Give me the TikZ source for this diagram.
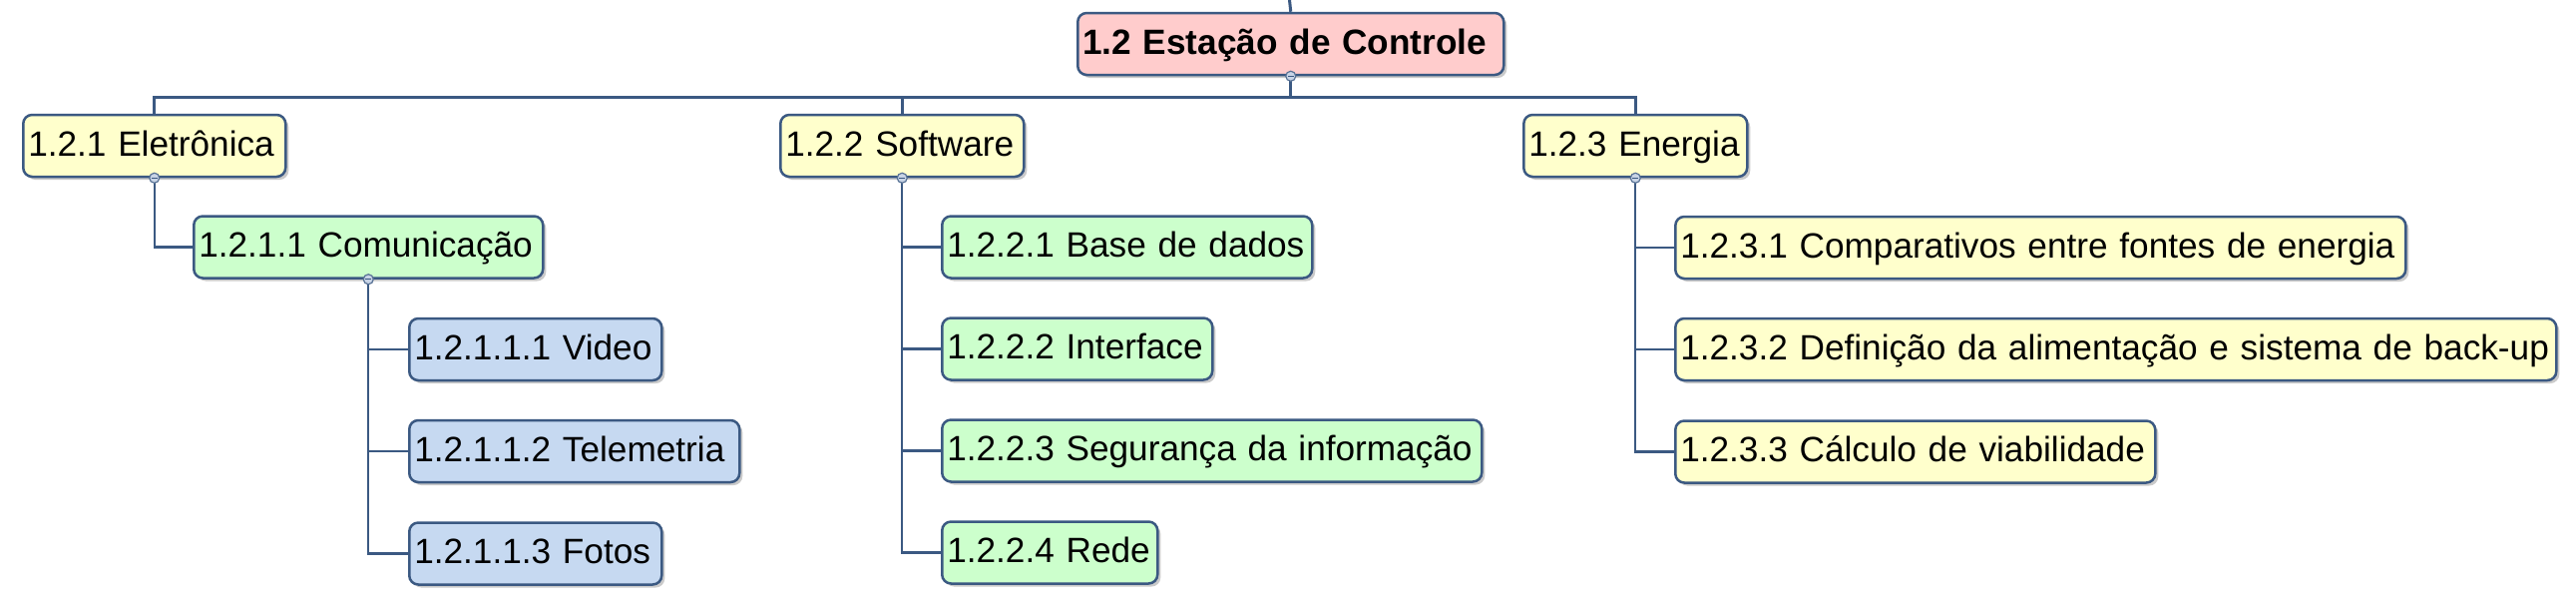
\documentclass[tikz,border=0pt]{standalone}
\usepackage{fontspec}
\setmainfont{Liberation Sans}
\usetikzlibrary{shadows}
\definecolor{bordc}{RGB}{59,89,130}
\definecolor{pinkf}{RGB}{255,204,204}
\definecolor{yellf}{RGB}{255,255,204}
\definecolor{greenf}{RGB}{204,255,204}
\definecolor{bluef}{RGB}{198,217,241}
\definecolor{knobf}{RGB}{200,212,230}
\tikzset{
  box/.style={draw=bordc, line width=2.5pt, rounded corners=9pt, minimum height=62pt,
    inner xsep=5pt, inner ysep=0pt, anchor=west, align=left,
    text height=27.5pt, text depth=7pt,
    font=\fontsize{35.2}{42}\selectfont,
    drop shadow={shadow xshift=3pt, shadow yshift=-3pt, opacity=0.35, fill=black!60}},
  bus/.style={draw=bordc, line width=3pt},
  conn/.style={draw=bordc, line width=2.4pt},
  knob/.style={circle, draw=bordc!85, fill=knobf, line width=1.2pt, minimum size=10pt, inner sep=0pt,
    path picture={\draw[line width=1.3pt, bordc] ([xshift=-3pt]path picture bounding box.center) -- ([xshift=3pt]path picture bounding box.center);}}
}
\begin{document}
\begin{tikzpicture}[x=1pt,y=1pt]
\useasboundingbox (0,0) rectangle (2582,-606);
\coordinate (top) at (1292.5,0);
% nodes
\node[box, fill=pinkf, text width=417pt, font=\fontsize{35.2}{42}\selectfont\bfseries] (root) at (1079,-44) {\mbox{1.2 Estação de Controle}};
\node[box, fill=yellf, text width=253pt] (ele) at (22,-146) {\mbox{1.2.1 Eletrônica}};
\node[box, fill=yellf, text width=234pt] (soft) at (781,-146) {\mbox{1.2.2 Software}};
\node[box, fill=yellf, text width=214pt] (ener) at (1526,-146) {\mbox{1.2.3 Energia}};
\node[box, fill=greenf, text width=340pt] (com) at (193,-247.5) {\mbox{1.2.1.1 Comunicação}};
\node[box, fill=bluef, text width=243pt] (vid) at (409,-350) {\mbox{1.2.1.1.1 Video}};
\node[box, fill=bluef, text width=321pt] (tel) at (409,-452) {\mbox{1.2.1.1.2 Telemetria}};
\node[box, fill=bluef, text width=243pt] (fot) at (409,-554.5) {\mbox{1.2.1.1.3 Fotos}};
\node[box, fill=greenf, text width=361pt] (base) at (943,-247.5) {\mbox{1.2.2.1 Base de dados}};
\node[box, fill=greenf, text width=261pt] (intf) at (943,-349.5) {\mbox{1.2.2.2 Interface}};
\node[box, fill=greenf, text width=531pt] (seg) at (943,-451.5) {\mbox{1.2.2.3 Segurança da informação}};
\node[box, fill=greenf, text width=206pt] (rede) at (943,-553.5) {\mbox{1.2.2.4 Rede}};
\node[box, fill=yellf, text width=722pt] (comp) at (1678,-248) {\mbox{1.2.3.1 Comparativos entre fontes de energia}};
\node[box, fill=yellf, text width=873pt] (defi) at (1678,-350) {\mbox{1.2.3.2 Definição da alimentação e sistema de back-up}};
\node[box, fill=yellf, text width=471pt] (calc) at (1678,-452.5) {\mbox{1.2.3.3 Cálculo de viabilidade}};
% connectors
\draw[bus] (top) -- (root.north);
\draw[bus] (root.south) -- ++(0,-21) coordinate (b);
\draw[bus] (b) -| (ele.north);
\draw[bus] (b) -| (soft.north);
\draw[bus] (b) -| (ener.north);
\draw[conn] (ele.south) |- (com.west);
\draw[conn] (com.south) |- (vid.west);
\draw[conn] (com.south) |- (tel.west);
\draw[conn] (com.south) |- (fot.west);
\draw[conn] (soft.south) |- (base.west);
\draw[conn] (soft.south) |- (intf.west);
\draw[conn] (soft.south) |- (seg.west);
\draw[conn] (soft.south) |- (rede.west);
\draw[conn] (ener.south) |- (comp.west);
\draw[conn] (ener.south) |- (defi.west);
\draw[conn] (ener.south) |- (calc.west);
% collapse knobs
\node[knob] (k1) at (root.south) {};
\node[knob] (k2) at (ele.south) {};
\node[knob] (k3) at (com.south) {};
\node[knob] (k4) at (soft.south) {};
\node[knob] (k5) at (ener.south) {};
\end{tikzpicture}
\end{document}
